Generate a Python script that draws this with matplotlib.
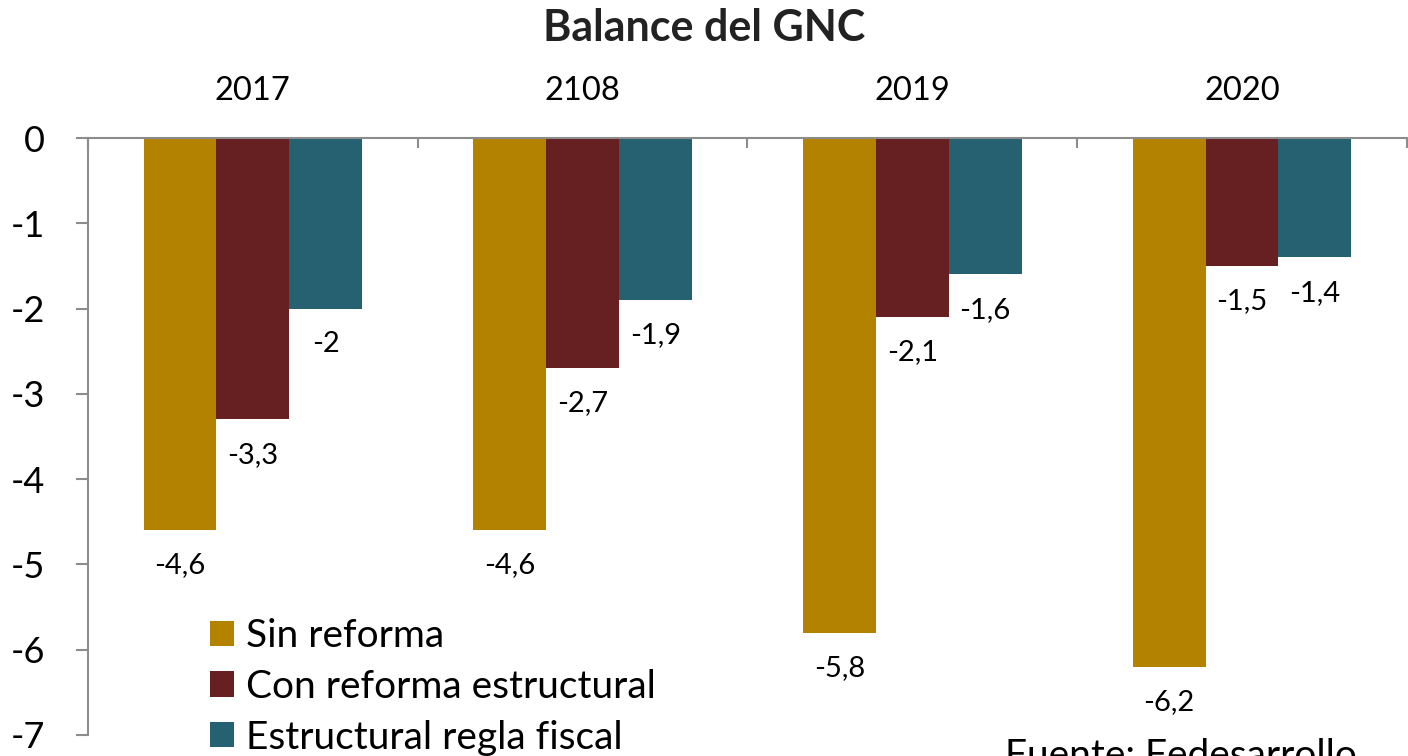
import matplotlib
matplotlib.use("Agg")
import matplotlib.pyplot as plt
import numpy as np
from matplotlib.patches import Patch

plt.rcParams['font.family'] = ['Lato', 'DejaVu Sans']

years = ["2017", "2108", "2019", "2020"]
series_names = ["Sin reforma", "Con reforma estructural", "Estructural regla fiscal"]
sin_reforma = [-4.6, -4.6, -5.8, -6.2]
con_reforma = [-3.3, -2.7, -2.1, -1.5]
regla_fiscal = [-2.0, -1.9, -1.6, -1.4]
colors = ["#B38300", "#662022", "#256171"]
title = "Balance del GNC"
source = "Fuente: Fedesarrollo"

fig = plt.figure(figsize=(14.08, 7.56), dpi=100)
ax = fig.add_axes([88/1408, 1-735/756, 1-88/1408-0.0008, (735-138)/756])

x = np.arange(len(years))
w = 0.221
data = [sin_reforma, con_reforma, regla_fiscal]
for i, (vals, c, name) in enumerate(zip(data, colors, series_names)):
    bars = ax.bar(x + (i-1)*w, vals, width=w, color=c, label=name, zorder=2)
    ax.bar_label(bars, labels=[f"{v:g}".replace('.', ',') for v in vals],
                 padding=16, fontsize=21, color='black')

ax.set_ylim(-7, 0)
ax.set_xlim(-0.5, len(years)-0.5)
ax.set_yticks(np.arange(0, -8, -1))
ax.set_yticklabels([str(v) for v in range(0, -8, -1)], fontsize=26)
ax.tick_params(axis='y', length=9, color='#8c8c8c', width=1.5, pad=22)

ax.xaxis.set_ticks_position('top')
ax.set_xticks(x)
ax.set_xticklabels(years, fontsize=23.5)
ax.set_xticks(np.arange(-0.5, len(years)), minor=True)
ax.tick_params(axis='x', which='major', length=0, pad=23)
ax.tick_params(axis='x', which='minor', direction='in', length=7, color='#8c8c8c', width=1.5)

for s in ['right', 'bottom']:
    ax.spines[s].set_visible(False)
for s in ['top', 'left']:
    ax.spines[s].set_color('#8c8c8c')
    ax.spines[s].set_linewidth(1.5)
ax.spines['top'].set_zorder(3)

fig.text(0.5, 1-28/756, title, ha='center', va='center', fontsize=31, fontweight='bold', color='#222222')

handles = [Patch(facecolor=c, label=n) for c, n in zip(colors, series_names)]
leg = ax.legend(handles=handles, loc='lower left', bbox_to_anchor=(0.066, -0.093),
                frameon=False, fontsize=28, handlelength=0.62, handleheight=0.62,
                handletextpad=0.3, labelspacing=0.38)

fig.text(1005/1408, 1-738/756, source, ha='left', va='top', fontsize=28)

fig.savefig("out.png", dpi=100)
